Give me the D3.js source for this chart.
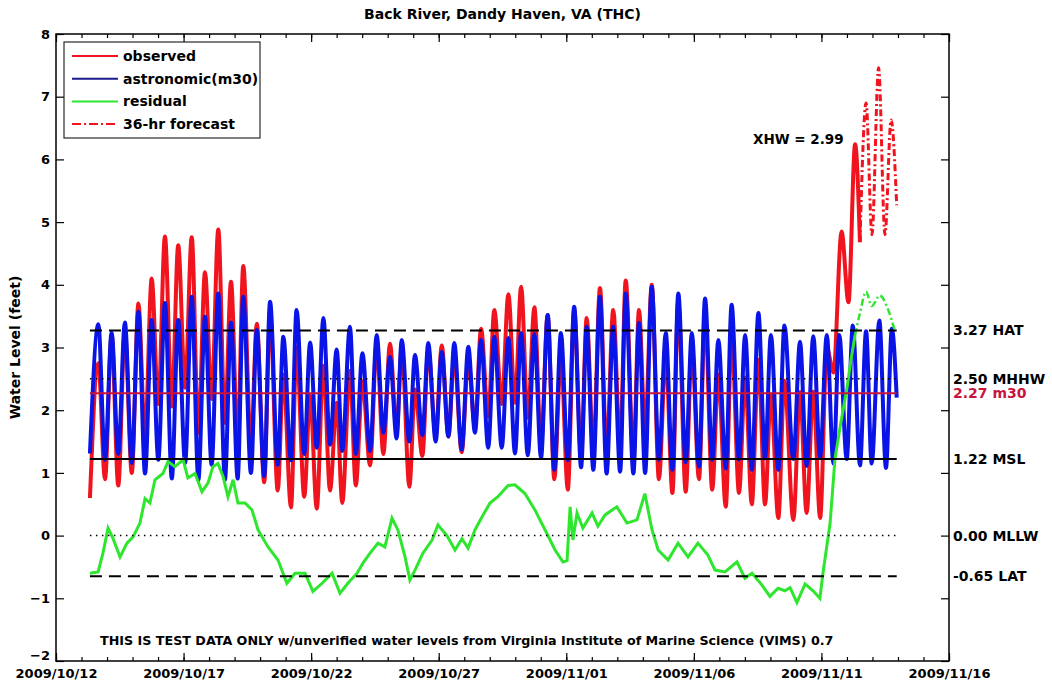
<!DOCTYPE html>
<html>
<head>
<meta charset="utf-8">
<script src="https://cdn.jsdelivr.net/npm/d3@7"></script>
<style>
  body { margin: 0; background: #fff; }
</style>
</head>
<body>
<div id="chart"></div>
<script>
// time is stored as days after 2009/10/12 00:00 (UTC)
const startDate = Date.UTC(2009, 9, 12);
const endDate = Date.UTC(2009, 10, 16);
const tickDates = ['2009/10/12', '2009/10/17', '2009/10/22', '2009/10/27', '2009/11/01', '2009/11/06', '2009/11/11', '2009/11/16'];
const levelTicks = [-2, -1, 0, 1, 2, 3, 4, 5, 6, 7, 8];

// tidal datums (feet)
const datumNames = ['HAT', 'MHHW', 'm30', 'MSL', 'MLLW', 'LAT'];
const datumValues = [3.27, 2.50, 2.27, 1.22, 0.00, -0.65];
const datumStyles = ['dash', 'dot', 'm30', 'solid', 'dot', 'dash'];
const datumSpan = [1.33, 32.95];

// astronomic tide (m30): alternating lows / highs [day, feet]
const astronomic = [
  [1.33, 1.31], [1.66, 3.37], [1.92, 1.21], [2.18, 3.24], [2.44, 1.30], [2.70, 3.40],
  [2.97, 1.16], [3.23, 3.57], [3.49, 0.99], [3.75, 3.44], [4.01, 1.21], [4.27, 3.71],
  [4.54, 0.91], [4.79, 3.44], [5.06, 1.16], [5.32, 3.81], [5.58, 0.89], [5.84, 3.49],
  [6.10, 1.13], [6.36, 3.86], [6.62, 0.89], [6.86, 3.40], [7.12, 0.91], [7.34, 3.81],
  [7.64, 1.00], [7.87, 3.28], [8.16, 0.95], [8.39, 3.73], [8.69, 1.13], [8.91, 3.17],
  [9.21, 1.20], [9.43, 3.60], [9.73, 1.30], [9.96, 3.08], [10.22, 1.40], [10.48, 3.47],
  [10.74, 1.45], [11.00, 2.97], [11.22, 1.35], [11.52, 3.33], [11.75, 1.30], [12.01, 2.91],
  [12.31, 1.35], [12.57, 3.20], [12.83, 1.64], [13.09, 2.85], [13.35, 1.55], [13.55, 3.12],
  [13.85, 1.50], [14.07, 2.88], [14.36, 1.60], [14.59, 3.07], [14.88, 1.50], [15.12, 2.93],
  [15.38, 1.58], [15.61, 3.07], [15.90, 1.37], [16.16, 3.01], [16.42, 1.64], [16.66, 3.12],
  [16.94, 1.40], [17.18, 3.17], [17.47, 1.40], [17.73, 3.15], [17.99, 1.31], [18.23, 3.23],
  [18.49, 1.28], [18.75, 3.21], [19.01, 1.24], [19.27, 3.52], [19.53, 1.05], [19.79, 3.23],
  [20.06, 1.20], [20.31, 3.65], [20.58, 1.09], [20.80, 3.33], [21.06, 1.05], [21.32, 3.81],
  [21.58, 0.99], [21.84, 3.33], [22.11, 1.02], [22.33, 3.86], [22.63, 0.99], [22.85, 3.39],
  [23.09, 1.00], [23.35, 3.97], [23.63, 1.21], [23.90, 3.23], [24.16, 1.05], [24.39, 3.86],
  [24.68, 1.17], [24.92, 3.23], [25.20, 1.10], [25.44, 3.78], [25.72, 1.21], [25.96, 3.12],
  [26.25, 1.07], [26.48, 3.68], [26.77, 1.21], [27.01, 3.20], [27.27, 1.05], [27.53, 3.55],
  [27.79, 1.23], [28.02, 3.20], [28.31, 1.05], [28.55, 3.35], [28.90, 1.22], [29.16, 3.09],
  [29.42, 1.11], [29.68, 3.18], [29.95, 1.25], [30.21, 3.20], [30.47, 1.15], [30.70, 3.20],
  [30.99, 1.22], [31.23, 3.35], [31.51, 1.12], [31.75, 3.26], [31.97, 1.15], [32.27, 3.43],
  [32.53, 1.08], [32.76, 3.30], [32.95, 2.20]
];

// observed water level [day, feet]
const observed = [
  [1.33, 0.60], [1.66, 2.75], [1.92, 0.90], [2.18, 3.20], [2.44, 0.80], [2.70, 3.28],
  [2.97, 1.00], [3.23, 3.70], [3.49, 1.58], [3.75, 4.10], [4.01, 2.10], [4.27, 4.77],
  [4.54, 2.06], [4.79, 4.63], [5.06, 2.36], [5.32, 4.76], [5.58, 1.64], [5.84, 4.20],
  [6.10, 2.18], [6.36, 4.88], [6.62, 1.80], [6.86, 4.05], [7.12, 1.46], [7.34, 4.30],
  [7.64, 1.42], [7.87, 3.38], [8.16, 0.85], [8.39, 3.53], [8.69, 0.72], [8.91, 2.57],
  [9.21, 0.45], [9.43, 3.00], [9.73, 0.62], [9.96, 2.23], [10.22, 0.43], [10.48, 2.71],
  [10.74, 0.72], [11.00, 2.12], [11.22, 0.52], [11.52, 2.63], [11.75, 0.80], [12.01, 2.46],
  [12.31, 1.12], [12.57, 3.06], [12.83, 1.30], [13.09, 3.06], [13.35, 1.65], [13.55, 3.02],
  [13.85, 0.78], [14.07, 2.33], [14.36, 1.27], [14.59, 2.97], [14.88, 1.60], [15.12, 3.03],
  [15.38, 1.58], [15.61, 2.87], [15.90, 1.33], [16.16, 2.81], [16.42, 1.73], [16.66, 3.30],
  [16.94, 1.90], [17.18, 3.60], [17.47, 2.10], [17.73, 3.85], [17.99, 2.12], [18.23, 3.97],
  [18.49, 1.88], [18.75, 3.64], [19.01, 1.44], [19.27, 3.52], [19.53, 0.90], [19.79, 2.83],
  [20.06, 0.73], [20.31, 3.60], [20.58, 1.29], [20.80, 3.47], [21.06, 1.35], [21.32, 3.95],
  [21.58, 1.34], [21.84, 3.60], [22.11, 1.42], [22.33, 4.07], [22.63, 1.24], [22.85, 3.60],
  [23.09, 1.67], [23.35, 4.00], [23.63, 0.90], [23.90, 2.88], [24.16, 0.68], [24.39, 3.74],
  [24.68, 0.70], [24.92, 3.03], [25.20, 0.90], [25.44, 3.53], [25.72, 0.73], [25.96, 2.57],
  [26.25, 0.46], [26.48, 3.18], [26.77, 0.68], [27.01, 2.52], [27.27, 0.50], [27.53, 2.80],
  [27.79, 0.50], [28.02, 2.25], [28.31, 0.28], [28.55, 2.47], [28.90, 0.25], [29.16, 2.29],
  [29.42, 0.36], [29.68, 2.30], [29.95, 0.28], [30.21, 3.00], [30.47, 2.60], [30.79, 4.85],
  [31.06, 3.72], [31.32, 6.24], [31.51, 4.68]
];

// 36-hr forecast [day, feet]
const forecast = [
  [31.51, 4.68], [31.75, 6.90], [31.98, 4.80], [32.24, 7.46], [32.49, 4.80], [32.73, 6.63], [32.95, 5.27]
];

// residual (observed - astronomic) [day, feet]
const residual = [
  [1.33, -0.60], [1.65, -0.58], [1.84, -0.28], [2.04, 0.12], [2.23, -0.04], [2.51, -0.34],
  [2.78, -0.12], [3.02, -0.02], [3.29, 0.20], [3.49, 0.59], [3.68, 0.52], [3.88, 0.89],
  [4.19, 0.99], [4.39, 1.18], [4.66, 1.10], [4.98, 1.21], [5.17, 0.92], [5.45, 0.99],
  [5.72, 0.70], [5.96, 0.84], [6.15, 1.10], [6.35, 1.15], [6.55, 0.94], [6.74, 0.62],
  [6.94, 0.89], [7.13, 0.52], [7.41, 0.52], [7.68, 0.41], [7.92, 0.09], [8.31, -0.18],
  [8.70, -0.39], [9.05, -0.76], [9.37, -0.60], [9.76, -0.60], [10.07, -0.89], [10.43, -0.76],
  [10.82, -0.60], [11.13, -0.92], [11.44, -0.76], [11.80, -0.60], [12.03, -0.44], [12.31, -0.28],
  [12.62, -0.12], [12.89, -0.18], [13.17, 0.28], [13.40, 0.09], [13.68, -0.34], [13.87, -0.71],
  [14.07, -0.55], [14.38, -0.28], [14.74, -0.07], [14.97, 0.17], [15.32, 0.00], [15.64, -0.23],
  [15.91, -0.05], [16.15, -0.20], [16.42, 0.09], [16.70, 0.30], [17.01, 0.52], [17.32, 0.62],
  [17.72, 0.80], [17.99, 0.81], [18.38, 0.67], [18.77, 0.41], [19.17, 0.09], [19.56, -0.23],
  [19.87, -0.42], [20.03, -0.40], [20.15, 0.46], [20.26, -0.07], [20.42, 0.36], [20.65, 0.12],
  [21.01, 0.36], [21.24, 0.15], [21.52, 0.33], [21.98, 0.46], [22.38, 0.20], [22.77, 0.25],
  [23.08, 0.67], [23.36, 0.09], [23.60, -0.23], [23.99, -0.39], [24.38, -0.12], [24.77, -0.34],
  [25.16, -0.12], [25.55, -0.31], [25.83, -0.55], [26.22, -0.58], [26.69, -0.42], [27.00, -0.68],
  [27.28, -0.60], [27.67, -0.79], [27.98, -0.97], [28.30, -0.84], [28.57, -0.88], [28.77, -0.83],
  [29.04, -1.07], [29.36, -0.77], [29.67, -0.88], [29.94, -1.00], [30.06, -0.60], [30.34, 0.20],
  [30.53, 1.22], [30.73, 1.73], [31.00, 2.35], [31.16, 2.81], [31.32, 3.20]
];

// forecast residual [day, feet]
const forecastResidual = [
  [31.32, 3.20], [31.51, 3.55], [31.75, 3.89], [31.97, 3.66], [32.29, 3.83], [32.56, 3.66], [32.88, 3.26]
];

const legendNames = ['observed', 'astronomic(m30)', 'residual', '36-hr forecast'];

const W = 1052, H = 685;
const m = { left: 56, right: 103, top: 34, bottom: 24 };
const font = '"DejaVu Sans", "Liberation Sans", Arial, sans-serif';

const red = '#f0141e', blue = '#0a14e6', green = '#2ee62e', m30Color = '#c8143c';

const day = d => new Date(startDate + d * 864e5);
const parse = d3.utcParse('%Y/%m/%d');

const x = d3.scaleUtc()
    .domain([new Date(startDate), new Date(endDate)])
    .range([m.left, W - m.right]);
const y = d3.scaleLinear()
    .domain([d3.min(levelTicks), d3.max(levelTicks)])
    .range([H - m.bottom, m.top]);

const svg = d3.select('#chart')
    .append('svg')
    .attr('width', W)
    .attr('height', H)
    .style('font-family', font)
    .style('font-weight', 'bold');

svg.append('rect')
    .attr('width', W)
    .attr('height', H)
    .style('fill', '#fff');

const line = d3.line()
    .x(d => x(day(d[0])))
    .y(d => y(d[1]))
    .curve(d3.curveMonotoneX);

const resLine = d3.line()
    .x(d => x(day(d[0])))
    .y(d => y(d[1]));

// series
svg.append('path').datum(observed)
    .attr('d', line)
    .style('fill', 'none').style('stroke', red).style('stroke-width', 4);

svg.append('path').datum(forecast)
    .attr('d', line)
    .style('fill', 'none').style('stroke', red).style('stroke-width', 3)
    .style('stroke-dasharray', '7,3,2,3');

svg.append('path').datum(astronomic)
    .attr('d', line)
    .style('fill', 'none').style('stroke', blue).style('stroke-width', 4);

svg.append('path').datum(residual)
    .attr('d', resLine)
    .style('fill', 'none').style('stroke', green).style('stroke-width', 3);

svg.append('path').datum(forecastResidual)
    .attr('d', line)
    .style('fill', 'none').style('stroke', green).style('stroke-width', 2.5)
    .style('stroke-dasharray', '7,3,2,3');

// datum lines + labels
datumValues.forEach((v, i) => {
    const s = datumStyles[i];
    const l = svg.append('line')
        .attr('x1', x(day(datumSpan[0])))
        .attr('x2', x(day(datumSpan[1])))
        .attr('y1', y(v))
        .attr('y2', y(v))
        .style('stroke', s === 'm30' ? m30Color : '#000')
        .style('stroke-width', s === 'dot' ? 1.5 : 2);
    if (s === 'dash') l.style('stroke-dasharray', '12,7');
    if (s === 'dot') l.style('stroke-dasharray', '1.5,4.5');

    svg.append('text')
        .attr('x', W - m.right + 4)
        .attr('y', y(v))
        .attr('dy', '0.35em')
        .style('font-size', '14px')
        .style('fill', s === 'm30' ? m30Color : '#000')
        .text(`${v.toFixed(2)} ${datumNames[i]}`);
});

// axes
const majorDates = tickDates.map(parse);
const minorDates = d3.utcDay.range(new Date(startDate), new Date(endDate + 1));

const gB = svg.append('g')
    .attr('transform', `translate(0,${H - m.bottom})`)
    .call(d3.axisBottom(x).tickValues(majorDates).tickFormat(d3.utcFormat('%Y/%m/%d'))
        .tickSizeInner(-8).tickSizeOuter(0).tickPadding(5));
svg.append('g')
    .attr('transform', `translate(0,${H - m.bottom})`)
    .call(d3.axisBottom(x).tickValues(minorDates).tickFormat('').tickSizeInner(-4).tickSizeOuter(0));
svg.append('g')
    .attr('transform', `translate(0,${m.top})`)
    .call(d3.axisTop(x).tickValues(majorDates).tickFormat('').tickSizeInner(-8).tickSizeOuter(0));
svg.append('g')
    .attr('transform', `translate(0,${m.top})`)
    .call(d3.axisTop(x).tickValues(minorDates).tickFormat('').tickSizeInner(-4).tickSizeOuter(0));
const gL = svg.append('g')
    .attr('transform', `translate(${m.left},0)`)
    .call(d3.axisLeft(y).tickValues(levelTicks).tickFormat(d3.format('d'))
        .tickSizeInner(-8).tickSizeOuter(0).tickPadding(6));
svg.append('g')
    .attr('transform', `translate(${W - m.right},0)`)
    .call(d3.axisRight(y).tickValues(levelTicks).tickFormat('').tickSizeInner(-8).tickSizeOuter(0));

svg.selectAll('.domain').remove();
svg.selectAll('.tick line').style('stroke', '#000').style('stroke-width', 1.2);
svg.selectAll('.tick text')
    .style('font-family', font)
    .style('font-weight', 'bold')
    .style('font-size', '13px')
    .style('fill', '#000');
gB.selectAll('.tick text').attr('dy', '0.95em');
gL.selectAll('.tick text').filter(d => d === -2).attr('dy', '-0.1em');

svg.append('rect')
    .attr('x', m.left)
    .attr('y', m.top)
    .attr('width', W - m.left - m.right)
    .attr('height', H - m.top - m.bottom)
    .style('fill', 'none')
    .style('stroke', '#000')
    .style('stroke-width', 1.5);

// title / labels
svg.append('text')
    .attr('x', (m.left + W - m.right) / 2)
    .attr('y', 19)
    .attr('text-anchor', 'middle')
    .style('font-size', '14px')
    .text('Back River, Dandy Haven, VA (THC)');

svg.append('text')
    .attr('transform', `translate(20,${(m.top + H - m.bottom) / 2}) rotate(-90)`)
    .attr('text-anchor', 'middle')
    .style('font-size', '14px')
    .text('Water Level (feet)');

svg.append('text')
    .attr('x', 753)
    .attr('y', 144)
    .style('font-size', '13.5px')
    .text('XHW = 2.99');

svg.append('text')
    .attr('x', 100)
    .attr('y', 645)
    .style('font-size', '12.7px')
    .text('THIS IS TEST DATA ONLY w/unverified water levels from Virginia Institute of Marine Science (VIMS) 0.7');

// legend
const leg = svg.append('g');
leg.append('rect')
    .attr('x', 64).attr('y', 42)
    .attr('width', 196).attr('height', 96)
    .style('fill', '#fff').style('stroke', '#000').style('stroke-width', 1);

const legColors = [red, '#1a1a8c', green, red];
legendNames.forEach((name, i) => {
    const ly = 56 + i * 22.7;
    const l = leg.append('line')
        .attr('x1', 72).attr('x2', 118)
        .attr('y1', ly).attr('y2', ly)
        .style('stroke', legColors[i])
        .style('stroke-width', 2);
    if (i === 3) l.style('stroke-dasharray', '9,3,2,3');
    leg.append('text')
        .attr('x', 123)
        .attr('y', ly)
        .attr('dy', '0.35em')
        .style('font-size', '14px')
        .text(name);
});
</script>
</body>
</html>
